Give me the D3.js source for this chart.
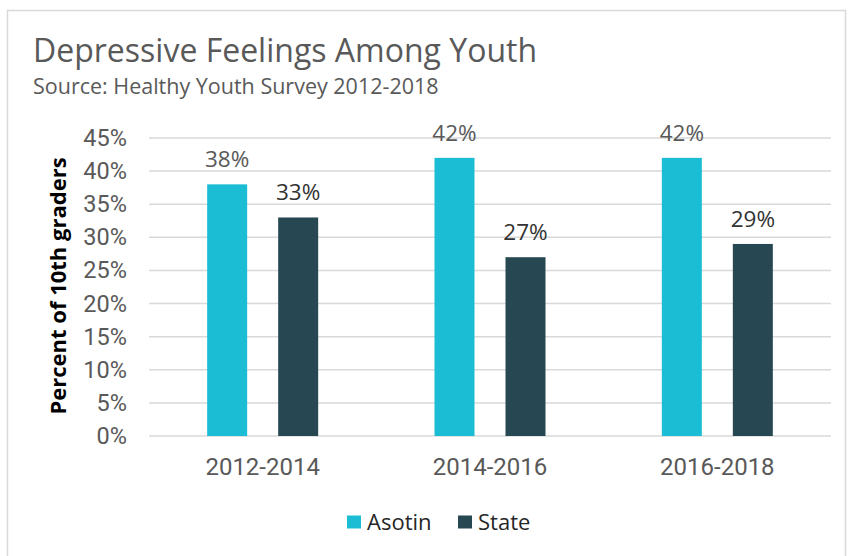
<!DOCTYPE html>
<html>
<head>
<meta charset="utf-8">
<script src="https://cdn.jsdelivr.net/npm/d3@7"></script>
<style>
  body { margin: 0; background: #fff; }
  svg { display: block; }
</style>
</head>
<body>
<svg id="chart"></svg>
<script>
const categories = ["2012-2014", "2014-2016", "2016-2018"];
const seriesNames = ["Asotin", "State"];
const asotin = [38, 42, 42];
const state = [33, 27, 29];
const yTicks = [0, 5, 10, 15, 20, 25, 30, 35, 40, 45];
const colors = ["#1bbdd4", "#274852"];
const labelColors = ["#595959", "#333333"];

const W = 848, H = 556;
const margin = { top: 138, right: 17, bottom: 120, left: 149 };
const width = W - margin.left - margin.right;
const height = H - margin.top - margin.bottom;

const svg = d3.select("#chart").attr("width", W).attr("height", H);

// chart frame
svg.append("rect")
    .attr("x", 7.5).attr("y", 10.5)
    .attr("width", 838).attr("height", 560)
    .attr("fill", "#fff")
    .attr("stroke", "#d9d9d9")
    .attr("stroke-width", 1.5);

svg.append("text")
    .attr("x", 33).attr("y", 62)
    .attr("font-family", "'Open Sans', sans-serif")
    .attr("font-size", 32)
    .attr("fill", "#595959")
    .text("Depressive Feelings Among Youth");

svg.append("text")
    .attr("x", 33).attr("y", 94)
    .attr("font-family", "'Open Sans', sans-serif")
    .attr("font-size", 21.5)
    .attr("fill", "#595959")
    .text("Source: Healthy Youth Survey 2012-2018");

const g = svg.append("g").attr("transform", `translate(${margin.left}, ${margin.top})`);

const x = d3.scaleBand().domain(categories).range([0, width]);
const y = d3.scaleLinear().domain([0, 45]).range([height, 0]);

// gridlines
g.selectAll(".grid")
    .data(yTicks)
    .enter().append("line")
    .attr("x1", 0).attr("x2", width)
    .attr("y1", d => y(d)).attr("y2", d => y(d))
    .attr("stroke", "#d9d9d9")
    .attr("stroke-width", 1.5);

const yAxis = g.append("g")
    .call(d3.axisLeft(y).tickValues(yTicks).tickFormat(d => d + "%").tickSize(0).tickPadding(22));
yAxis.select(".domain").remove();
yAxis.selectAll("text")
    .attr("font-family", "Roboto, sans-serif")
    .attr("font-size", 23.5)
    .attr("fill", "#595959");

const xAxis = g.append("g")
    .attr("transform", `translate(0, ${height})`)
    .call(d3.axisBottom(x).tickSize(0).tickPadding(22));
xAxis.select(".domain").remove();
xAxis.selectAll("text")
    .attr("font-family", "Roboto, sans-serif")
    .attr("font-size", 24)
    .attr("fill", "#595959");

// bars: 40px wide, 31px apart, centred in each category
const barW = 40, gap = 31;
const pair = 2 * barW + gap;
const x1 = d3.scaleBand().domain(seriesNames)
    .range([(x.bandwidth() - pair) / 2, (x.bandwidth() + pair) / 2])
    .paddingInner(gap / (barW + gap));

const rows = categories.map((c, i) => ({ cat: c, vals: [asotin[i], state[i]] }));

const groups = g.selectAll(".grp")
    .data(rows)
    .enter().append("g")
    .attr("transform", d => `translate(${x(d.cat)}, 0)`);

groups.selectAll("rect")
    .data(d => d.vals.map((v, j) => ({ name: seriesNames[j], v, j })))
    .enter().append("rect")
    .attr("x", d => x1(d.name))
    .attr("y", d => y(d.v))
    .attr("width", x1.bandwidth())
    .attr("height", d => height - y(d.v))
    .attr("fill", d => colors[d.j]);

groups.selectAll(".lbl")
    .data(d => d.vals.map((v, j) => ({ name: seriesNames[j], v, j })))
    .enter().append("text")
    .attr("x", d => x1(d.name) + x1.bandwidth() / 2)
    .attr("y", d => y(d.v) - 17)
    .attr("text-anchor", "middle")
    .attr("font-family", "'Open Sans', sans-serif")
    .attr("font-size", 22.5)
    .attr("fill", d => labelColors[d.j])
    .text(d => d.v + "%");

// y-axis title
svg.append("text")
    .attr("transform", `translate(66, 286) rotate(-90)`)
    .attr("text-anchor", "middle")
    .attr("font-family", "'Open Sans', sans-serif")
    .attr("font-weight", "bold")
    .attr("font-size", 22)
    .attr("fill", "#000")
    .text("Percent of 10th graders");

// legend
const legend = svg.append("g").attr("transform", "translate(347, 522)");
const lx = [0, 111];
seriesNames.forEach((n, i) => {
    legend.append("rect")
        .attr("x", lx[i]).attr("y", -6.5)
        .attr("width", 14).attr("height", 13)
        .attr("fill", colors[i]);
    legend.append("text")
        .attr("x", lx[i] + 20).attr("y", 8)
        .attr("font-family", "'Open Sans', sans-serif")
        .attr("font-size", 22)
        .attr("fill", "#262626")
        .text(n);
});
</script>
</body>
</html>
